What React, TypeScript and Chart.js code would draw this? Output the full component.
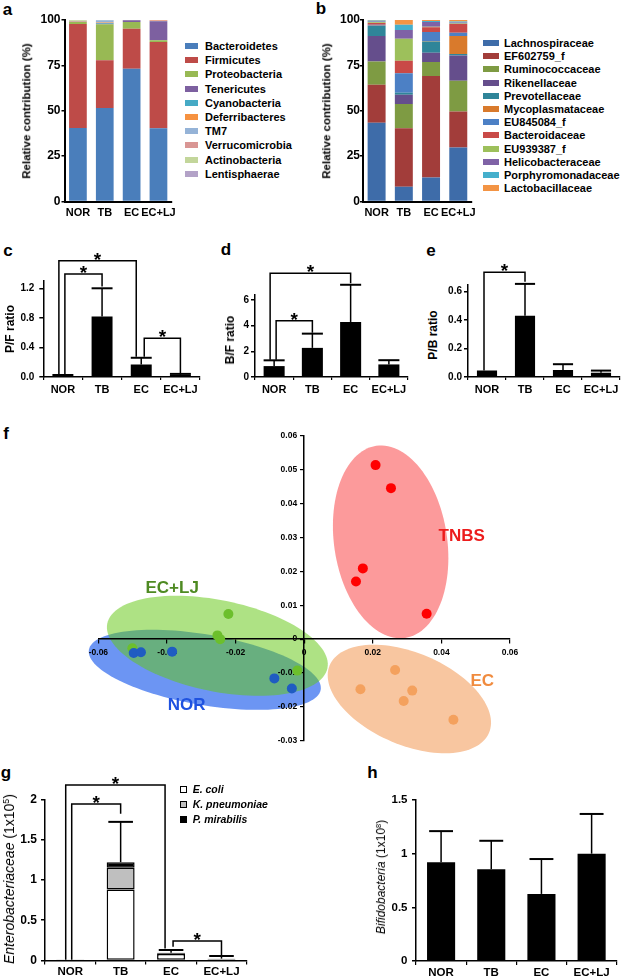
import React, { useEffect, useRef } from 'react';
import { Chart, registerables } from 'chart.js';

Chart.register(...registerables);

const FONT = "'Liberation Sans', Arial, Helvetica, sans-serif";
Chart.defaults.font.family = FONT;

// ---------------- data ----------------
const GROUPS = ['NOR', 'TB', 'EC', 'EC+LJ'];

// panel a – phylum level relative contribution (%)
const PHYLA = ['Bacteroidetes', 'Firmicutes', 'Proteobacteria', 'Tenericutes', 'Cyanobacteria', 'Deferribacteres', 'TM7', 'Verrucomicrobia', 'Actinobacteria', 'Lentisphaerae'];
const PHYLUM_SHARE = [
  [40.5, 51.5, 73.2, 40.4],
  [57.3, 26.3, 22.0, 47.5],
  [1.1, 19.8, 3.7, 0.9],
  [0.1, 0.3, 1.0, 10.5],
  [0.1, 0.5, 0.0, 0.1],
  [0.1, 0.2, 0.0, 0.2],
  [0.0, 1.2, 0.0, 0.0],
  [0.1, 0.1, 0.0, 0.4],
  [0.6, 0.1, 0.1, 0.0],
  [0.1, 0.0, 0.0, 0.0],
];
const PHYLUM_COLORS = ['#4A7EBB', '#BE4B48', '#98B954', '#7D60A0', '#46AAC5', '#F69240', '#95B3D7', '#D99694', '#C3D69B', '#B3A2C7'];

// panel b – family level relative contribution (%)
const FAMILIES = ['Lachnospiraceae', 'EF602759_f', 'Ruminococcaceae', 'Rikenellaceae', 'Prevotellaceae', 'Mycoplasmataceae', 'EU845084_f', 'Bacteroidaceae', 'EU939387_f', 'Helicobacteraceae', 'Porphyromonadaceae', 'Lactobacillaceae'];
const FAMILY_SHARE = [
  [43.4, 8.1, 13.2, 29.8],
  [20.9, 32.3, 55.9, 19.8],
  [12.9, 13.3, 7.7, 16.9],
  [14.0, 5.1, 5.2, 14.0],
  [5.5, 1.1, 6.2, 0.8],
  [0.2, 0.0, 0.2, 9.9],
  [0.5, 10.7, 5.0, 1.8],
  [1.0, 7.0, 2.6, 4.8],
  [0.3, 12.1, 0.3, 0.3],
  [0.5, 4.8, 2.6, 0.5],
  [0.5, 2.9, 0.5, 0.6],
  [0.3, 2.6, 0.6, 0.8],
];
const FAMILY_COLORS = ['#3E6CA9', '#A23D3A', '#7E9B43', '#654E8C', '#2F8599', '#D97A2C', '#4C80C5', '#C94A47', '#9DC05B', '#7F62A6', '#45AFCC', '#F39444'];
const SHARE_TICKS = [0, 25, 50, 75, 100];

// panels c, d, e – ratios (mean, SD)
const PF_MEAN = [0.04, 0.82, 0.17, 0.03];
const PF_SD = [0, 0.38, 0.09, 0.012];
const PF_TICKS = [0, 0.4, 0.8, 1.2];
const BF_MEAN = [0.85, 2.27, 4.29, 0.98];
const BF_SD = [0.45, 1.11, 2.9, 0.33];
const BF_TICKS = [0, 2, 4, 6];
const PB_MEAN = [0.045, 0.43, 0.05, 0.03];
const PB_SD = [0, 0.225, 0.04, 0.015];
const PB_TICKS = [0, 0.2, 0.4, 0.6];

// significance brackets: [from group, to group, bracket level, left leg end, right leg end]
const PF_SIG = [[0, 2, 1.574, 0.04, 0.275], [0, 1, 1.394, 0.04, 1.225], [2, 3, 0.524, 0.275, 0.045]];
const BF_SIG = [[0, 2, 8.08, 1.35, 7.3], [0, 1, 4.39, 1.35, 3.45]];
const PB_SIG = [[0, 1, 0.736, 0.045, 0.67]];
const ENT_SIG = [[0, 2, 2.177, 0.01, 0.15], [0, 1, 1.942, 0.01, 1.82], [2, 3, 0.242, 0.17, 0.06]];

// panel f – PCoA coordinates [PC1, PC2]
const PCO_NOR = [[-0.0497, -0.0041], [-0.0476, -0.0039], [-0.0385, -0.0037], [-0.0087, -0.0116], [-0.0036, -0.0146]];
const PCO_ECLJ = [[-0.0221, 0.0074], [-0.0253, 0.0011], [-0.0245, 0.0], [-0.0501, -0.0027], [-0.002, -0.0093]];
const PCO_TNBS = [[0.0208, 0.0514], [0.0253, 0.0446], [0.0171, 0.0209], [0.0151, 0.017], [0.0357, 0.0075]];
const PCO_EC = [[0.0265, -0.0091], [0.0164, -0.0148], [0.0315, -0.0152], [0.029, -0.0183], [0.0435, -0.0238]];
// group ellipses: centre and two conjugate semi-axes, in PCoA units
const ELLIPSE_NOR = [-0.02898, -0.00906, 0.03379, -0.00589, -0.00174, -0.01026];
const ELLIPSE_ECLJ = [-0.02532, -0.00197, 0.03209, -0.0066, -0.00264, -0.01322];
const ELLIPSE_TNBS = [0.0252, 0.02872, 0.00423, -0.02837, 0.01629, 0.0025];
const ELLIPSE_EC = [0.03066, -0.01768, 0.02323, -0.00997, -0.00522, -0.01254];
// group label anchors
const LABEL_POS = { TNBS: [0.0459, 0.0304], EC: [0.0519, -0.01254], 'EC+LJ': [-0.0385, 0.01488], NOR: [-0.03426, -0.01944] };

// panel g – Enterobacteriaceae (x10^5)
const ECOLI = [0.004, 0.88, 0.08, 0.015];
const KPNEU = [0.001, 0.27, 0.005, 0.003];
const PMIRA = [0.001, 0.07, 0.01, 0.005];
const ENT_SD = [0, 0.5, 0.035, 0.033];
const ENT_TICKS = [0, 0.5, 1, 1.5, 2];

// panel h – Bifidobacteria (x10^8)
const BIFI_MEAN = [0.92, 0.855, 0.625, 1.0];
const BIFI_SD = [0.29, 0.265, 0.325, 0.37];
const BIFI_TICKS = [0, 0.5, 1, 1.5];

// ---------------- helpers ----------------
type Rect = { l: number; t: number; w: number; h: number };
type Area = { l: number; t: number; r: number; b: number };

function fixedPad(rect: Rect, area: Area, yw: number, xh: number) {
  return {
    left: area.l - rect.l - yw,
    top: area.t - rect.t,
    right: rect.l + rect.w - area.r,
    bottom: rect.t + rect.h - area.b - xh,
  };
}

const bold = (size: number) => ({ family: FONT, size, weight: 'bold' as const });

function errorBarPlugin(means: number[], sds: number[], capFrac: number) {
  return {
    id: 'errorBars',
    afterDatasetsDraw(chart: any) {
      const { ctx } = chart;
      const xs = chart.scales.x, ys = chart.scales.y;
      const meta = chart.getDatasetMeta(0);
      ctx.save();
      ctx.strokeStyle = '#000';
      means.forEach((m, i) => {
        const sd = sds[i];
        if (!sd) return;
        const px = xs.getPixelForValue(i);
        const bw = meta.data[i].width;
        const y0 = ys.getPixelForValue(m);
        const y1 = ys.getPixelForValue(m + sd);
        ctx.lineWidth = 1.5;
        ctx.beginPath();
        ctx.moveTo(px, y0);
        ctx.lineTo(px, y1);
        ctx.stroke();
        ctx.lineWidth = 2;
        ctx.beginPath();
        ctx.moveTo(px - (bw * capFrac) / 2, y1);
        ctx.lineTo(px + (bw * capFrac) / 2, y1);
        ctx.stroke();
      });
      ctx.restore();
    },
  };
}

function bracketPlugin(list: number[][], offsets: number[][]) {
  return {
    id: 'brackets',
    afterDatasetsDraw(chart: any) {
      const { ctx } = chart;
      const xs = chart.scales.x, ys = chart.scales.y;
      ctx.save();
      ctx.strokeStyle = '#000';
      ctx.fillStyle = '#000';
      ctx.lineWidth = 1.5;
      list.forEach((b, k) => {
        const [a, c, level, aEnd, cEnd] = b;
        const x0 = xs.getPixelForValue(a) + offsets[k][0];
        const x1 = xs.getPixelForValue(c) + offsets[k][1];
        const yl = ys.getPixelForValue(level);
        ctx.beginPath();
        ctx.moveTo(x0, ys.getPixelForValue(aEnd));
        ctx.lineTo(x0, yl);
        ctx.lineTo(x1, yl);
        ctx.lineTo(x1, ys.getPixelForValue(cEnd));
        ctx.stroke();
        ctx.font = `bold 19px ${FONT}`;
        ctx.textAlign = 'center';
        ctx.textBaseline = 'alphabetic';
        ctx.fillText('*', (x0 + x1) / 2, yl + 5);
      });
      ctx.restore();
    },
  };
}

function barPanel(o: any) {
  return {
    type: 'bar',
    data: { labels: GROUPS, datasets: o.datasets },
    options: {
      responsive: false,
      maintainAspectRatio: false,
      animation: false,
      events: [],
      layout: { padding: fixedPad(o.rect, o.area, o.yw, o.xh), autoPadding: false },
      plugins: { legend: { display: false }, tooltip: { enabled: false } },
      scales: {
        x: {
          stacked: !!o.stacked,
          grid: { display: o.xtl > 0, drawOnChartArea: false, drawTicks: o.xtl > 0, tickLength: o.xtl, color: '#000', lineWidth: 1.2 },
          border: { display: true, color: '#000', width: o.bw },
          ticks: { font: bold(o.xFont), color: '#000', padding: o.xPad, maxRotation: 0, minRotation: 0, autoSkip: false },
          afterFit: (s: any) => { s.height = o.xh; },
        },
        y: {
          stacked: !!o.stacked,
          min: 0,
          max: o.max,
          afterBuildTicks: (s: any) => {
            s.ticks = o.ticks.map((v: number) => ({ value: v }));
          },
          ticks: { callback: o.fmt, font: bold(o.yFont), color: '#000', padding: o.yPad, autoSkip: false },
          grid: { display: true, drawOnChartArea: false, drawTicks: true, tickLength: o.ytl, color: '#000', lineWidth: 1.5 },
          border: { display: true, color: '#000', width: o.bw },
          afterFit: (s: any) => { s.width = o.yw; },
        },
      },
    },
    plugins: o.plugins || [],
  };
}

function Panel({ rect, make }: { rect: Rect; make: () => any }) {
  const ref = useRef<HTMLCanvasElement | null>(null);
  useEffect(() => {
    const chart = new Chart(ref.current as HTMLCanvasElement, make());
    return () => chart.destroy();
  }, []);
  return (
    <canvas
      ref={ref}
      width={rect.w}
      height={rect.h}
      style={{ position: 'absolute', left: rect.l, top: rect.t, width: rect.w, height: rect.h }}
    />
  );
}

// ---------------- chart configs ----------------
const RECT_A: Rect = { l: 0, t: 0, w: 182, h: 230 };
const AREA_A: Area = { l: 64.5, t: 20, r: 173.5, b: 201.5 };
const RECT_B: Rect = { l: 300, t: 0, w: 182, h: 230 };
const AREA_B: Area = { l: 363, t: 20, r: 472, b: 201.5 };

function stackedShare(rect: Rect, area: Area, names: string[], shares: number[][], colors: string[], yPad: number) {
  return barPanel({
    rect, area, yw: 40, xh: 25, bw: 2, stacked: true,
    max: 100, ticks: SHARE_TICKS, fmt: (v: any) => String(v),
    xtl: 0, xFont: 11, xPad: 5.2, ytl: 3, yFont: 12, yPad,
    datasets: names.map((n, k) => ({
      label: n, data: shares[k], backgroundColor: colors[k], borderWidth: 0,
      barPercentage: 0.66, categoryPercentage: 1,
    })),
  });
}

const fmt1 = (v: any) => Number(v).toFixed(1);

function ratioPanel(rect: Rect, area: Area, yw: number, max: number, ticks: number[], fmt: any, means: number[], sds: number[], sig: number[][], offs: number[][], barPct: number, yPad: number) {
  return barPanel({
    rect, area, yw, xh: 25, bw: 1.5,
    max, ticks, fmt,
    xtl: 3, xFont: 11, xPad: 3.4, ytl: 4, yFont: 10, yPad,
    datasets: [{ data: means, backgroundColor: '#000', borderWidth: 0, barPercentage: barPct, categoryPercentage: 1 }],
    plugins: [errorBarPlugin(means, sds, 1), bracketPlugin(sig, offs)],
  });
}

const RECT_C: Rect = { l: 15, t: 240, w: 200, h: 170 };
const AREA_C: Area = { l: 43.3, t: 280.9, r: 200, b: 377 };
const RECT_D: Rect = { l: 225, t: 240, w: 197, h: 170 };
const AREA_D: Area = { l: 255, t: 294.9, r: 408, b: 377 };
const RECT_E: Rect = { l: 440, t: 240, w: 185, h: 170 };
const AREA_E: Area = { l: 468, t: 284.6, r: 620, b: 377 };

const RECT_F: Rect = { l: 60, t: 420, w: 500, h: 340 };
const AREA_F: Area = { l: 98.4, t: 436, r: 510, b: 740.7 };

const pcoFmt = (v: any) => (Math.abs(Number(v)) < 1e-9 ? '0' : Number(v).toFixed(2));

function ellipsePlugin() {
  const items: [number[], string][] = [
    [ELLIPSE_NOR, 'rgba(96,140,242,0.92)'],
    [ELLIPSE_ECLJ, 'rgba(100,200,20,0.52)'],
    [ELLIPSE_TNBS, '#FC9A9B'],
    [ELLIPSE_EC, '#F8C6A0'],
  ];
  return {
    id: 'ellipses',
    beforeDraw(chart: any) {
      const { ctx } = chart;
      const xs = chart.scales.x, ys = chart.scales.y;
      ctx.save();
      items.forEach(([e, color]) => {
        const [cx, cy, ux, uy, vx, vy] = e;
        ctx.beginPath();
        const n = 120;
        for (let k = 0; k <= n; k++) {
          const t = (k / n) * Math.PI * 2;
          const px = xs.getPixelForValue(cx + ux * Math.cos(t) + vx * Math.sin(t));
          const py = ys.getPixelForValue(cy + uy * Math.cos(t) + vy * Math.sin(t));
          if (k === 0) ctx.moveTo(px, py);
          else ctx.lineTo(px, py);
        }
        ctx.closePath();
        ctx.fillStyle = color;
        ctx.fill();
      });
      ctx.restore();
    },
  };
}

function groupLabelPlugin() {
  const colors: any = { TNBS: '#EC1C1C', EC: '#F08B3E', 'EC+LJ': '#4E8A22', NOR: '#1F52E0' };
  return {
    id: 'groupLabels',
    afterDatasetsDraw(chart: any) {
      const { ctx } = chart;
      const xs = chart.scales.x, ys = chart.scales.y;
      ctx.save();
      ctx.font = `bold 17px ${FONT}`;
      ctx.textAlign = 'center';
      ctx.textBaseline = 'middle';
      Object.keys(LABEL_POS).forEach((k) => {
        const [x, y] = (LABEL_POS as any)[k];
        ctx.fillStyle = colors[k];
        ctx.fillText(k, xs.getPixelForValue(x), ys.getPixelForValue(y));
      });
      ctx.restore();
    },
  };
}

function pcoaConfig() {
  const toPts = (arr: number[][]) => arr.map(([x, y]) => ({ x, y }));
  const sets: [string, number[][], string][] = [
    ['NOR', PCO_NOR, '#1F5CC2'],
    ['EC+LJ', PCO_ECLJ, '#6CBF2C'],
    ['TNBS', PCO_TNBS, '#FF0000'],
    ['EC', PCO_EC, '#F4A15E'],
  ];
  return {
    type: 'scatter',
    data: {
      datasets: sets.map(([label, arr, color]) => ({
        label, data: toPts(arr), pointRadius: 5, pointBorderWidth: 0,
        pointBackgroundColor: color, backgroundColor: color, borderColor: color, showLine: false,
      })),
    },
    options: {
      responsive: false,
      maintainAspectRatio: false,
      animation: false,
      events: [],
      layout: { padding: fixedPad(RECT_F, AREA_F, 0, 0), autoPadding: false },
      plugins: { legend: { display: false }, tooltip: { enabled: false } },
      scales: {
        x: {
          type: 'linear', position: { y: 0 }, min: -0.06, max: 0.06,
          ticks: { stepSize: 0.02, callback: pcoFmt, font: bold(8.5), color: '#000', padding: 4.3 },
          grid: { display: true, drawOnChartArea: false, drawTicks: true, tickLength: 4, color: '#000', lineWidth: 1.2 },
          border: { display: true, color: '#000', width: 1.5 },
        },
        y: {
          type: 'linear', position: { x: 0 }, min: -0.03, max: 0.06,
          ticks: { stepSize: 0.01, callback: (v: any) => pcoFmt(v) + '   ', font: bold(8.5), color: '#000' },
          grid: { display: true, drawOnChartArea: false, drawTicks: true, tickLength: 3, color: '#000', lineWidth: 1.2 },
          border: { display: true, color: '#000', width: 1.5 },
        },
      },
    },
    plugins: [ellipsePlugin(), groupLabelPlugin()],
  };
}

const RECT_G: Rect = { l: 15, t: 770, w: 240, h: 208 };
const AREA_G: Area = { l: 45, t: 799.3, r: 246.7, b: 960.5 };
const RECT_H: Rect = { l: 385, t: 780, w: 240, h: 198 };
const AREA_H: Area = { l: 416, t: 800, r: 616.7, b: 961 };

function enteroConfig() {
  const total = ECOLI.map((v, i) => v + KPNEU[i] + PMIRA[i]);
  const mk = (label: string, data: number[], color: string) => ({
    label, data, backgroundColor: color, borderColor: '#000', borderWidth: 1.5, borderSkipped: false,
    barPercentage: 0.555, categoryPercentage: 1,
  });
  return barPanel({
    rect: RECT_G, area: AREA_G, yw: 24, xh: 17, bw: 1.5, stacked: true,
    max: 2, ticks: ENT_TICKS, fmt: (v: any) => String(v),
    xtl: 4, xFont: 11.5, xPad: 0.3, ytl: 4, yFont: 12, yPad: 4,
    datasets: [mk('E. coli', ECOLI, '#FFFFFF'), mk('K. pneumoniae', KPNEU, '#BFBFBF'), mk('P. mirabilis', PMIRA, '#000000')],
    plugins: [errorBarPlugin(total, ENT_SD, 0.88), bracketPlugin(ENT_SIG, [[-4.5, -6], [1.5, 0], [2, 0]])],
  });
}

function bifidoConfig() {
  return barPanel({
    rect: RECT_H, area: AREA_H, yw: 24, xh: 17, bw: 1.5,
    max: 1.5, ticks: BIFI_TICKS, fmt: (v: any) => String(v),
    xtl: 4, xFont: 11.5, xPad: 0.8, ytl: 4, yFont: 11.5, yPad: 4.5,
    datasets: [{ data: BIFI_MEAN, backgroundColor: '#000', borderWidth: 0, barPercentage: 0.56, categoryPercentage: 1 }],
    plugins: [errorBarPlugin(BIFI_MEAN, BIFI_SD, 0.85)],
  });
}

// ---------------- HTML text ----------------
function Txt({ x, y, children, size = 11, weight = 'bold', italic = false, rotate = false, left = false, color = '#000' }: any) {
  const tr = `translate(${left ? '0' : '-50%'}, -50%)${rotate ? ' rotate(-90deg)' : ''}`;
  return (
    <div
      style={{
        position: 'absolute', left: x, top: y, transform: tr, whiteSpace: 'nowrap',
        fontFamily: FONT, fontSize: size, fontWeight: weight as any, fontStyle: italic ? 'italic' : 'normal',
        lineHeight: 1, color,
      }}
    >
      {children}
    </div>
  );
}

function Legend({ names, colors, x, y0, dy, bw, tx }: any) {
  return (
    <>
      {names.map((n: string, i: number) => (
        <React.Fragment key={n}>
          <div style={{ position: 'absolute', left: x, top: y0 + i * dy - 3, width: bw, height: 6, background: colors[i] }} />
          <Txt x={tx} y={y0 + i * dy} left size={11}>{n}</Txt>
        </React.Fragment>
      ))}
    </>
  );
}

const Sup = ({ children }: any) => (
  <span style={{ fontSize: '0.62em', verticalAlign: '0.55em', fontStyle: 'normal' }}>{children}</span>
);

const G_LEGEND = ['E. coli', 'K. pneumoniae', 'P. mirabilis'];
const G_LEGEND_FILL = ['#FFFFFF', '#BFBFBF', '#000000'];

export default function App() {
  return (
    <div style={{ position: 'absolute', left: 0, top: 0, width: 625, height: 978, background: '#fff', overflow: 'hidden' }}>
      {/* panel letters */}
      <Txt x={7.5} y={9} size={17}>a</Txt>
      <Txt x={321} y={8} size={17}>b</Txt>
      <Txt x={8} y={250} size={17}>c</Txt>
      <Txt x={226} y={249} size={17}>d</Txt>
      <Txt x={431} y={250} size={17}>e</Txt>
      <Txt x={6} y={433} size={17}>f</Txt>
      <Txt x={6} y={772} size={17}>g</Txt>
      <Txt x={372.5} y={772} size={17}>h</Txt>

      {/* a */}
      <Panel rect={RECT_A} make={() => stackedShare(RECT_A, AREA_A, PHYLA, PHYLUM_SHARE, PHYLUM_COLORS, 1)} />
      <Txt x={27.3} y={111} size={11.5} rotate>Relative contribution (%)</Txt>
      <Legend names={PHYLA} colors={PHYLUM_COLORS} x={185} y0={46} dy={14.2} bw={13} tx={205} />

      {/* b */}
      <Panel rect={RECT_B} make={() => stackedShare(RECT_B, AREA_B, FAMILIES, FAMILY_SHARE, FAMILY_COLORS, 0)} />
      <Txt x={327.3} y={111} size={11.5} rotate>Relative contribution (%)</Txt>
      <Legend names={FAMILIES} colors={FAMILY_COLORS} x={483} y0={43} dy={13.2} bw={16} tx={504} />

      {/* c, d, e */}
      <Panel rect={RECT_C} make={() => ratioPanel(RECT_C, AREA_C, 26, 1.3, PF_TICKS, fmt1, PF_MEAN, PF_SD, PF_SIG, [[-4, -5], [2, 0], [3, 0]], 0.535, 5)} />
      <Txt x={10} y={329} size={12} rotate>P/F ratio</Txt>
      <Panel rect={RECT_D} make={() => ratioPanel(RECT_D, AREA_D, 20, 6.4, BF_TICKS, (v: any) => String(v), BF_MEAN, BF_SD, BF_SIG, [[-4, 0], [2, 0]], 0.55, 2)} />
      <Txt x={230} y={340} size={12} rotate>B/F ratio</Txt>
      <Panel rect={RECT_E} make={() => ratioPanel(RECT_E, AREA_E, 26, 0.65, PB_TICKS, fmt1, PB_MEAN, PB_SD, PB_SIG, [[-3, 0]], 0.53, 2)} />
      <Txt x={433} y={335} size={12} rotate>P/B ratio</Txt>

      {/* f */}
      <Panel rect={RECT_F} make={pcoaConfig} />

      {/* g */}
      <Panel rect={RECT_G} make={enteroConfig} />
      <Txt x={8.7} y={879} size={14} weight="normal" rotate>
        <span style={{ fontStyle: 'italic' }}>Enterobacteriaceae</span> (1x10<Sup>5</Sup>)
      </Txt>
      {G_LEGEND.map((n, i) => (
        <React.Fragment key={n}>
          <div style={{ position: 'absolute', left: 180, top: [789.3, 804, 819.3][i] - 3.5, width: 5, height: 5, background: G_LEGEND_FILL[i], border: '1px solid #000' }} />
          <Txt x={192.7} y={[789.3, 804, 819.3][i]} left size={10.5} italic>{n}</Txt>
        </React.Fragment>
      ))}

      {/* h */}
      <Panel rect={RECT_H} make={bifidoConfig} />
      <Txt x={381} y={876.7} size={12} weight="normal" rotate>
        <span style={{ fontStyle: 'italic' }}>Bifidobacteria</span> (1x10<Sup>8</Sup>)
      </Txt>
    </div>
  );
}
